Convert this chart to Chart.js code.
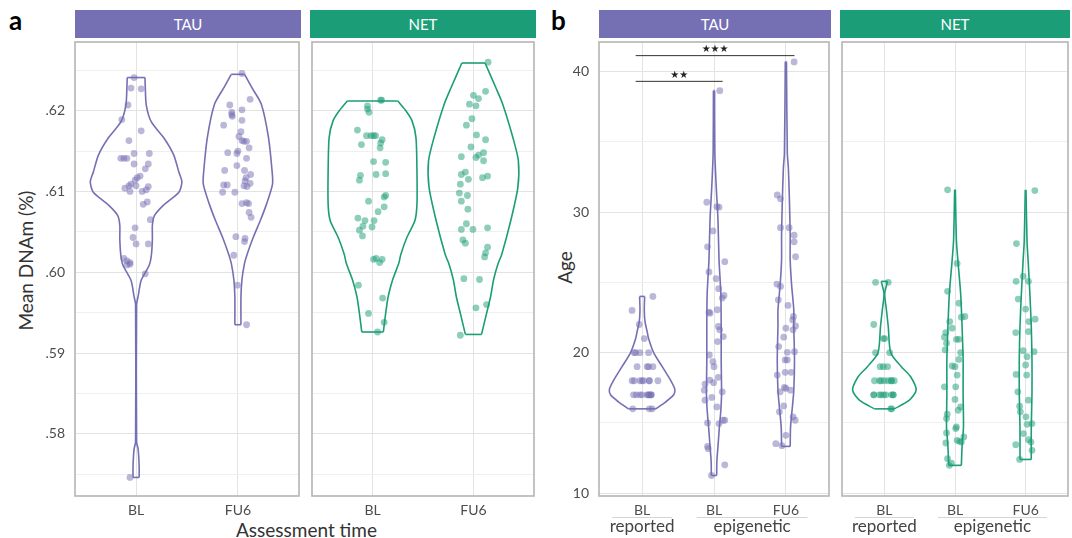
<!DOCTYPE html>
<html>
<head>
<meta charset="utf-8">
<script src="https://cdn.jsdelivr.net/npm/chart.js@4.4.1/dist/chart.umd.min.js"></script>
<style>
body { margin: 0; background: #fff; font-family: Lato, sans-serif; }
#wrap { position: relative; width: 1072px; height: 538px; overflow: hidden; }
canvas { position: absolute; }
.strip { position: absolute; top: 10px; height: 28px; line-height: 28px; color: #fff; text-align: center; font-size: 15px; }
.lbl { position: absolute; color: #333; font-size: 19px; white-space: nowrap; }
.tag { position: absolute; font-weight: bold; font-size: 26px; color: #000; }
</style>
</head>
<body>
<div id="wrap">
  <div class="tag" style="left:9px;top:4px">a</div>
  <div class="tag" style="left:551px;top:4px">b</div>
  <div class="strip" style="left:75px;width:226px;background:#7570b3">TAU</div>
  <div class="strip" style="left:310px;width:226px;background:#1b9e77">NET</div>
  <div class="strip" style="left:599px;width:232px;background:#7570b3">TAU</div>
  <div class="strip" style="left:840px;width:230px;background:#1b9e77">NET</div>
  <div class="lbl" style="left:-40px;top:254px;transform:rotate(-90deg);width:130px;text-align:center">Mean DNAm (%)</div>
  <div class="lbl" style="left:236px;top:518px">Assessment time</div>
  <div class="lbl" style="left:548px;top:256px;transform:rotate(-90deg)">Age</div>
  <canvas id="a1" width="303" height="500" style="left:0;top:38px"></canvas>
  <canvas id="a2" width="230" height="500" style="left:308px;top:38px"></canvas>
  <canvas id="b1" width="293" height="500" style="left:540px;top:38px"></canvas>
  <canvas id="b2" width="234" height="500" style="left:838px;top:38px"></canvas>
</div>
<script>
// categories and ticks
const timeCats = ['BL', 'FU6'];
const ageCats = ['BL', 'BL', 'FU6'];
const ageGroups = ['reported', 'epigenetic'];
const ageGroupFrom = [0.58, 1.76];
const ageGroupTo = [1.42, 3.3];
const dnamMajor = [0.58, 0.59, 0.60, 0.61, 0.62];
const dnamMinor = [0.575, 0.585, 0.595, 0.605, 0.615, 0.625];
const ageMajor = [10, 20, 30, 40];
const ageMinor = [15, 25, 35];

// significance brackets (panel b, TAU)
const bracketFrom = [0.91, 0.91];
const bracketTo = [2.12, 3.12];
const bracketY = [39.3, 41.13];
const bracketLabel = ['**', '***'];

// jittered points: [x jitter, value]
const dnamTauBL = [[-0.02,.6241],[-0.05,.6228],[0.05,.6227],[-0.08,.6207],[-0.14,.6189],[0.05,.6175],[-0.07,.6163],[-0.02,.6147],[0.13,.6147],[-0.15,.6141],[-0.12,.6141],[-0.09,.6141],[-0.02,.6134],[0.12,.6134],[0.09,.6128],[0.04,.6119],[0.01,.6117],[-0.01,.6114],[-0.05,.6109],[-0.07,.6107],[0.00,.6107],[-0.11,.6104],[-0.06,.6100],[0.06,.6100],[0.12,.6106],[0.10,.6102],[0.07,.6084],[0.11,.6087],[0.14,.6065],[-0.01,.6055],[-0.03,.6043],[0.00,.6035],[0.12,.6035],[-0.12,.6017],[-0.09,.6014],[-0.06,.6012],[-0.09,.6009],[-0.06,.6010],[0.09,.5998],[-0.06,.5746]];
const dnamTauFU6 = [[0.04,.6246],[0.12,.6214],[-0.08,.6207],[-0.06,.6198],[-0.06,.6195],[0.04,.6201],[-0.055,.6193],[-0.14,.6182],[0.04,.6188],[0.03,.6174],[0.01,.6168],[0.04,.6163],[0.06,.6162],[0.085,.6162],[0.11,.6154],[-0.10,.6148],[0.00,.6150],[-0.01,.6147],[0.085,.6141],[-0.01,.6132],[-0.13,.6126],[0.065,.6126],[0.125,.6121],[0.08,.6117],[0.07,.6113],[-0.14,.6108],[-0.105,.6108],[0.12,.6110],[0.06,.6107],[-0.15,.6099],[-0.03,.6099],[0.09,.6106],[0.04,.6085],[0.105,.6085],[0.085,.6086],[0.11,.6074],[0.13,.6068],[-0.02,.6044],[0.07,.6042],[0.065,.6038],[-0.04,.6021],[-0.005,.5984],[0.085,.5935]];
const dnamNetBL = [[0.09,.6213],[0.08,.6213],[-0.05,.6206],[-0.05,.6202],[-0.035,.6198],[-0.15,.6176],[-0.06,.6169],[-0.015,.6169],[0.01,.6169],[0.03,.6169],[0.095,.6164],[0.08,.6160],[-0.11,.6158],[0.075,.6154],[0.01,.6137],[0.13,.6136],[-0.12,.6120],[-0.13,.6114],[0.035,.6121],[0.13,.6122],[-0.04,.6088],[0.115,.6093],[0.13,.6095],[0.115,.6081],[0.055,.6075],[-0.145,.6067],[-0.075,.6064],[0.015,.6064],[-0.095,.6057],[-0.13,.6052],[-0.005,.6056],[-0.1,.6045],[0.035,.6017],[0.095,.6016],[0.07,.6012],[0.01,.6016],[-0.14,.5984],[0.10,.5968],[-0.04,.5949],[0.115,.5938],[0.05,.5926]];
const dnamNetFU6 = [[0.145,.6260],[0.12,.6224],[0.00,.6219],[0.05,.6215],[-0.04,.6208],[0.025,.6206],[-0.015,.6190],[-0.07,.6182],[0.03,.6170],[0.12,.6164],[-0.025,.6155],[-0.12,.6143],[0.025,.6142],[0.05,.6145],[0.10,.6148],[0.10,.6138],[-0.08,.6124],[-0.12,.6121],[-0.05,.6115],[0.14,.6119],[0.09,.6117],[-0.13,.6109],[-0.14,.6098],[-0.06,.6095],[-0.12,.6088],[-0.055,.6078],[0.14,.6055],[-0.07,.6060],[-0.12,.6053],[-0.005,.6053],[-0.105,.6040],[-0.08,.6036],[0.14,.6031],[0.12,.6024],[0.11,.6019],[-0.095,.5992],[0.06,.5991],[0.025,.5956],[0.13,.5960],[-0.13,.5922]];

const ageTauRep = [[0.15,24],[-0.14,23],[-0.04,22],[0.03,21],[-0.11,20],[-0.09,20],[-0.03,20],[0.09,20],[-0.07,19],[0.07,19],[0.09,19],[0.15,19],[-0.14,18],[-0.11,18],[-0.03,18],[0.0,18],[0.02,18],[0.10,18],[0.10,18],[0.22,18],[-0.12,17],[-0.08,17],[-0.03,17],[0.0,17],[0.07,17],[0.09,17],[0.09,17],[0.12,17],[0.13,17],[0.12,17],[-0.13,16],[0.10,16],[0.14,16]];
const ageTauEpiBL = [[0.08,38.64],[-0.10,30.7],[0.04,30.38],[0.07,30.35],[-0.015,28.66],[-0.09,27.53],[0.15,26.47],[-0.07,25.74],[0.03,25.26],[0.065,24.55],[0.14,24.07],[0.115,23.88],[-0.07,22.88],[-0.055,22.81],[0.045,23.05],[0.06,21.86],[0.08,21.62],[0.13,21.14],[0.05,20.79],[-0.065,19.83],[-0.015,19.36],[0.0,19.0],[-0.06,18.05],[-0.125,17.76],[0.06,18.24],[-0.005,17.86],[-0.135,17.33],[-0.03,16.81],[0.115,17.21],[-0.125,16.62],[0.04,16.14],[-0.09,15.0],[0.07,14.95],[0.125,15.19],[0.15,15.19],[-0.09,13.33],[-0.08,13.17],[0.15,12.02],[-0.035,11.26]];
const ageTauEpiFU6 = [[0.115,40.68],[-0.12,31.22],[-0.075,30.94],[-0.075,28.89],[0.045,28.89],[0.115,28.35],[0.115,27.88],[0.135,26.82],[-0.125,24.88],[-0.075,24.71],[-0.105,23.76],[0.03,23.36],[0.105,22.57],[0.095,22.33],[0.0,21.74],[0.1,21.62],[0.135,21.9],[-0.03,21.1],[-0.1,20.43],[0.02,20.02],[0.12,20.07],[-0.01,19.48],[0.02,19.48],[-0.01,18.6],[-0.12,18.4],[0.075,18.6],[-0.02,17.52],[0.0,17.45],[-0.08,17.21],[0.065,17.33],[-0.03,16.21],[-0.09,15.79],[0.1,15.43],[0.13,15.19],[0.0,14.12],[-0.14,13.52],[-0.055,13.38]];
const ageNetRep = [[-0.125,25],[0.055,25],[-0.15,22],[-0.015,21],[0.005,21],[-0.125,20],[0.075,20],[-0.06,19],[-0.015,19],[0.045,19],[-0.14,18],[-0.07,18],[-0.045,18],[0.0,18],[0.055,18],[0.1,18],[0.1,18],[0.14,18],[-0.15,17],[-0.15,17],[-0.07,17],[-0.045,17],[-0.01,17],[0.02,17],[0.1,17],[0.125,17],[0.125,17],[0.09,16],[0.105,16]];
const ageNetEpiBL = [[-0.105,31.58],[0.03,26.35],[-0.105,24.36],[0.055,23.52],[-0.075,22.21],[-0.04,21.74],[0.14,22.57],[0.09,22.52],[-0.13,21.43],[-0.15,21.1],[-0.12,20.67],[-0.14,20.2],[0.02,20.95],[0.055,20.95],[0.08,20.0],[0.055,19.52],[-0.04,19.05],[0.0,19.0],[0.03,18.4],[-0.15,17.57],[0.01,17.57],[0.0,16.67],[0.08,16.14],[0.045,15.9],[-0.11,15.62],[-0.12,15.31],[0.02,14.71],[0.01,14.6],[-0.12,14.29],[0.125,14.0],[0.03,13.76],[0.065,13.69],[0.09,13.64],[-0.13,13.57],[-0.105,12.45],[-0.08,11.98],[-0.05,12.14]];
const ageNetEpiFU6 = [[0.13,31.53],[-0.13,27.76],[-0.035,25.43],[0.04,25.07],[-0.135,25.07],[-0.105,23.81],[0.0,23.1],[0.045,22.21],[0.135,22.38],[-0.14,21.43],[0.04,21.5],[-0.035,20.14],[0.02,19.71],[0.12,20.07],[0.0,19.12],[-0.135,18.45],[0.015,18.4],[-0.11,17.21],[0.04,16.62],[-0.085,16.19],[-0.075,15.79],[0.005,15.43],[0.09,14.95],[0.02,14.9],[-0.03,14.24],[0.04,13.81],[0.075,13.64],[-0.14,13.45],[0.09,13.05],[-0.085,12.4]];

// violin outlines: [value, half width]
const vDnamTauBL = [[.6241,.087],[.6230,.09],[.6207,.10],[.6186,.15],[.6165,.28],[.6145,.37],[.6124,.42],[.6112,.45],[.6099,.42],[.6083,.27],[.6070,.18],[.6058,.16],[.6041,.16],[.6021,.15],[.6009,.13],[.5990,.05],[.5970,.02],[.5960,.005],[.5790,.005],[.5781,.02],[.5760,.03],[.5746,.03]];
const vDnamTauFU6 = [[.6245,.065],[.6230,.13],[.6208,.23],[.6167,.30],[.6126,.335],[.6109,.34],[.6084,.28],[.6064,.22],[.6043,.15],[.6022,.09],[.6011,.065],[.5991,.04],[.5970,.03],[.5935,.03]];
const vDnamNetBL = [[.6212,.25],[.6200,.33],[.6188,.39],[.6167,.43],[.6126,.44],[.6084,.44],[.6064,.42],[.6043,.34],[.6022,.28],[.6011,.26],[.5991,.2],[.5970,.155],[.5949,.13],[.5926,.107]];
const vDnamNetFU6 = [[.6259,.115],[.6229,.22],[.6208,.29],[.6167,.39],[.6138,.445],[.6105,.44],[.6064,.37],[.6022,.28],[.6011,.245],[.5991,.2],[.5970,.17],[.5949,.13],[.5923,.08]];
const vAgeTauRep = [[24.0,.035],[23.0,.03],[22.2,.04],[21.5,.07],[21.0,.09],[20.0,.16],[19.0,.28],[18.0,.40],[17.4,.455],[17.0,.44],[16.5,.33],[16.0,.19]];
const vAgeTauEpiBL = [[38.64,.008],[34.2,.012],[31.9,.03],[29.5,.055],[26.6,.07],[24.2,.095],[21.9,.1],[19.5,.1],[17.1,.105],[15.9,.095],[14.7,.075],[13.3,.055],[12.3,.04],[11.26,.037]];
const vAgeTauEpiFU6 = [[40.7,.008],[34.2,.02],[33.1,.035],[30.7,.05],[28.35,.06],[26.6,.06],[24.8,.08],[23.05,.11],[21.9,.11],[19.5,.12],[17.3,.11],[16.1,.09],[14.7,.065],[13.33,.06]];
const vAgeNetRep = [[25.07,.045],[24.2,.005],[23.0,.03],[21.86,.055],[20.0,.09],[19.0,.24],[18.3,.37],[17.33,.45],[16.6,.35],[16.0,.14]];
const vAgeNetEpiBL = [[31.58,.005],[28.0,.02],[26.6,.04],[24.2,.08],[21.86,.1],[19.5,.115],[17.1,.115],[14.7,.12],[13.3,.1],[11.98,.09]];
const vAgeNetEpiFU6 = [[31.58,.005],[27.9,.02],[26.6,.035],[24.2,.06],[21.86,.08],[19.5,.09],[17.1,.09],[14.7,.08],[12.4,.08]];

const PURPLE = '#7570b3', GREEN = '#1b9e77';
const PURPLE_PT = 'rgba(117,112,179,0.5)', GREEN_PT = 'rgba(27,158,119,0.5)';
const FONT = 'Lato, sans-serif';

function violin(profile, cat, color) {
  const left = profile.map(p => ({x: cat - p[1], y: p[0]}));
  const right = profile.map(p => ({x: cat + p[1], y: p[0]}));
  const n = profile.length - 1;
  const parts = [left, right, [left[0], right[0]], [left[n], right[n]]];
  return parts.map((d, i) => ({
    data: d, showLine: true, fill: false, pointRadius: 0, borderColor: color,
    borderWidth: 1.6, tension: i < 2 ? 0.25 : 0, order: 2
  }));
}

function dots(points, cat, color) {
  return {
    data: points.map(p => ({x: cat + p[0], y: p[1]})),
    pointRadius: 3.4, pointBackgroundColor: color, pointBorderWidth: 0,
    pointBorderColor: 'rgba(0,0,0,0)', order: 0
  };
}

const framePlugin = {
  id: 'frame',
  afterDraw(chart, args, opts) {
    const ctx = chart.ctx, a = chart.chartArea;
    const xs = chart.scales.x, ys = chart.scales.y;
    ctx.save();
    ctx.strokeStyle = '#b5b5b5';
    ctx.lineWidth = 1.6;
    ctx.strokeRect(a.left, a.top, a.right - a.left, a.bottom - a.top);
    if (opts.brackets) {
      ctx.fillStyle = '#222';
      ctx.font = '10px "DejaVu Sans"';
      ctx.textAlign = 'center';
      ctx.textBaseline = 'bottom';
      bracketLabel.forEach((lab, i) => {
        const cx = (xs.getPixelForValue(bracketFrom[i]) + xs.getPixelForValue(bracketTo[i])) / 2;
        const txt = lab.split('').map(() => '\u2605').join('');
        ctx.fillText(txt, cx, ys.getPixelForValue(bracketY[i]) - 1);
      });
    }
    if (opts.groups) {
      ctx.strokeStyle = '#d5d5d5';
      ctx.lineWidth = 1;
      ctx.fillStyle = '#444';
      ctx.font = '17px ' + FONT;
      ctx.textAlign = 'center';
      ctx.textBaseline = 'top';
      const ly = a.bottom + 21.5;
      ageGroups.forEach((g, i) => {
        const x0 = xs.getPixelForValue(ageGroupFrom[i]);
        const x1 = xs.getPixelForValue(ageGroupTo[i]);
        ctx.beginPath();
        ctx.moveTo(x0, ly);
        ctx.lineTo(x1, ly);
        ctx.stroke();
        ctx.fillText(g, (x0 + x1) / 2, ly + 1);
      });
    }
    ctx.restore();
  }
};

function panel(id, cfg) {
  const brackets = cfg.brackets ? bracketY.map((y, i) => ({
    data: [{x: bracketFrom[i], y: y}, {x: bracketTo[i], y: y}],
    showLine: true, pointRadius: 0, borderColor: '#333', borderWidth: 1, order: 1
  })) : [];
  new Chart(document.getElementById(id), {
    type: 'scatter',
    data: { datasets: cfg.datasets.concat(brackets) },
    options: {
      responsive: false,
      animation: false,
      layout: { padding: { top: 0, right: 2, bottom: 0, left: 0 } },
      plugins: {
        legend: { display: false },
        tooltip: { enabled: false },
        frame: { brackets: !!cfg.brackets, groups: !!cfg.groups }
      },
      scales: {
        x: {
          type: 'linear', min: 0.4, max: cfg.cats.length + 0.6,
          afterBuildTicks: s => { s.ticks = cfg.cats.map((c, i) => ({value: i + 1})); },
          afterFit: s => { s.height = 42; s.paddingLeft = 0; s.paddingRight = 0; },
          ticks: {
            callback: v => cfg.cats[v - 1], color: '#4d4d4d', padding: 6,
            font: { family: FONT, size: 14 }, autoSkip: false, maxRotation: 0
          },
          grid: { color: '#e3e3e3', lineWidth: 1, drawTicks: false },
          border: { display: false }
        },
        y: {
          type: 'linear', min: cfg.min, max: cfg.max,
          afterBuildTicks: s => { s.ticks = cfg.major.concat(cfg.minor).sort((p, q) => p - q).map(v => ({value: v})); },
          afterFit: s => { s.width = cfg.yWidth; s.paddingTop = 0; s.paddingBottom = 0; },
          ticks: {
            display: cfg.yLabels,
            callback: v => cfg.major.includes(v) ? cfg.fmt(v) : '',
            color: '#4d4d4d', padding: 10, font: { family: FONT, size: 14 }, autoSkip: false
          },
          grid: {
            color: c => cfg.major.includes(c.tick.value) ? '#e3e3e3' : '#efefef',
            lineWidth: 1, drawTicks: false
          },
          border: { display: false }
        }
      }
    },
    plugins: [framePlugin]
  });
}

const fmtDnam = v => v.toFixed(2).replace(/^0/, '');
const fmtAge = v => String(v);
const dnamRange = { min: 0.5723, max: 0.6285, major: dnamMajor, minor: dnamMinor, fmt: fmtDnam, cats: timeCats };
const ageRange = { min: 9.8, max: 42.1, major: ageMajor, minor: ageMinor, fmt: fmtAge, cats: ageCats };

panel('a1', Object.assign({}, dnamRange, {
  yWidth: 75, yLabels: true,
  datasets: [].concat(violin(vDnamTauBL, 1, PURPLE), violin(vDnamTauFU6, 2, PURPLE),
    [dots(dnamTauBL, 1, PURPLE_PT), dots(dnamTauFU6, 2, PURPLE_PT)])
}));
panel('a2', Object.assign({}, dnamRange, {
  yWidth: 2, yLabels: false,
  datasets: [].concat(violin(vDnamNetBL, 1, GREEN), violin(vDnamNetFU6, 2, GREEN),
    [dots(dnamNetBL, 1, GREEN_PT), dots(dnamNetFU6, 2, GREEN_PT)])
}));
panel('b1', Object.assign({}, ageRange, {
  yWidth: 59, yLabels: true, brackets: true, groups: true,
  datasets: [].concat(violin(vAgeTauRep, 1, PURPLE), violin(vAgeTauEpiBL, 2, PURPLE), violin(vAgeTauEpiFU6, 3, PURPLE),
    [dots(ageTauRep, 1, PURPLE_PT), dots(ageTauEpiBL, 2, PURPLE_PT), dots(ageTauEpiFU6, 3, PURPLE_PT)])
}));
panel('b2', Object.assign({}, ageRange, {
  yWidth: 2, yLabels: false, groups: true,
  datasets: [].concat(violin(vAgeNetRep, 1, GREEN), violin(vAgeNetEpiBL, 2, GREEN), violin(vAgeNetEpiFU6, 3, GREEN),
    [dots(ageNetRep, 1, GREEN_PT), dots(ageNetEpiBL, 2, GREEN_PT), dots(ageNetEpiFU6, 3, GREEN_PT)])
}));
</script>
</body>
</html>
